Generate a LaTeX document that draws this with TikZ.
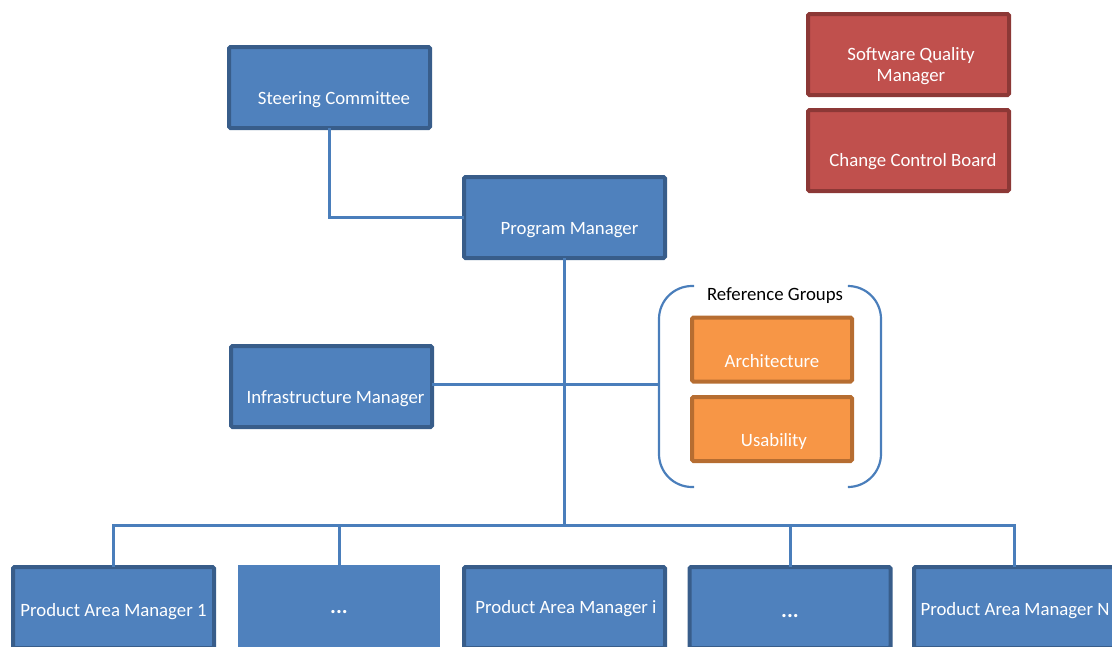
\documentclass[tikz,border=0pt]{standalone}
\usepackage{fontspec}
\setmainfont{Carlito}
\begin{document}
\begin{tikzpicture}[x=1pt,y=-1pt,
  every node/.style={inner sep=0pt,outer sep=0pt},
  boxbase/.style={rectangle,rounded corners=1.5pt,line width=4pt,minimum width=201pt,minimum height=81pt},
  bluebox/.style={boxbase,fill=boxblue,draw=borderblue},
  plainblue/.style={rectangle,fill=boxblue,minimum width=202pt,minimum height=85pt},
  redbox/.style={boxbase,fill=boxred,draw=borderred},
  orangebox/.style={boxbase,fill=boxorange,draw=borderorange,minimum width=160pt,minimum height=64pt},
  boxtext/.style={text=white,font=\fontsize{18.8}{21.5}\selectfont,align=center},
  dotstext/.style={text=white,font=\fontsize{22}{24}\selectfont\bfseries},
  grouptext/.style={text=black,font=\fontsize{18.8}{21.5}\selectfont},
  link/.style={draw=linkblue,line width=3pt},
  brace/.style={draw=linkblue,line width=2.2pt,rounded corners=33pt}
]
\definecolor{boxblue}{HTML}{4F81BD}
\definecolor{borderblue}{HTML}{385D8A}
\definecolor{boxred}{HTML}{C0504D}
\definecolor{borderred}{HTML}{8C3836}
\definecolor{boxorange}{HTML}{F79646}
\definecolor{borderorange}{HTML}{B66D31}
\definecolor{linkblue}{HTML}{4A7EBB}

\useasboundingbox (0,0) rectangle (1112,646);
\clip (0,0) rectangle (1112,646);

% management boxes
\node[bluebox] (sc) at (329.5,87.5) {};
\node[boxtext] (sct) at (334,100) {Steering Committee};
\node[bluebox] (pm) at (564.5,217.5) {};
\node[boxtext] (pmt) at (569.5,230) {Program Manager};
\node[bluebox] (im) at (331.5,386.5) {};
\node[boxtext] (imt) at (335.5,399) {Infrastructure Manager};

% staff functions
\node[redbox] (sqm) at (908.5,54.5) {};
\node[boxtext] (sqmt) at (911,66) {Software Quality\\Manager};
\node[redbox] (ccb) at (908.5,150.5) {};
\node[boxtext] (ccbt) at (913,162) {Change Control Board};

% reference groups
\node[orangebox] (arch) at (772,349.5) {};
\node[boxtext] (archt) at (772,361) {Architecture};
\node[orangebox] (usab) at (772,429) {};
\node[boxtext] (usabt) at (774,441) {Usability};
\node[grouptext] (rg) at (775,296) {Reference Groups};
\coordinate (lbr) at (659,384);
\draw[brace] (694,286) -- (659,286) -- (659,487) -- (694,487);
\draw[brace] (849,286) -- (881,286) -- (881,487) -- (849,487);

% product area managers
\node[bluebox] (pa1) at (113.5,607.5) {};
\node[boxtext] (pa1t) at (113.5,612) {Product Area Manager 1};
\node[plainblue] (dots1) at (339,607.5) {};
\node[dotstext] (dots1t) at (339,612) {...};
\node[bluebox] (pai) at (564.5,607.5) {};
\node[boxtext] (pait) at (566,609) {Product Area Manager i};
\node[bluebox] (dots2) at (790,607.5) {};
\node[dotstext] (dots2t) at (790,616) {...};
\node[bluebox] (pan) at (1014.5,607.5) {};
\node[boxtext] (pant) at (1015,611) {Product Area Manager N};

% connectors
\coordinate (bus) at (564.5,525);
\draw[link] (sc.south) |- (pm.west);
\draw[link] (pm.south) -- (bus);
\draw[link] ([yshift=2.5pt]im.east) -- (lbr);
\draw[link,line cap=rect] (pa1.north |- bus) -- (pan.north |- bus);
\draw[link] (pa1.north) -- (pa1.north |- bus);
\draw[link] (dots1.north) -- (dots1.north |- bus);
\draw[link] (dots2.north) -- (dots2.north |- bus);
\draw[link] (pan.north) -- (pan.north |- bus);
\end{tikzpicture}
\end{document}
